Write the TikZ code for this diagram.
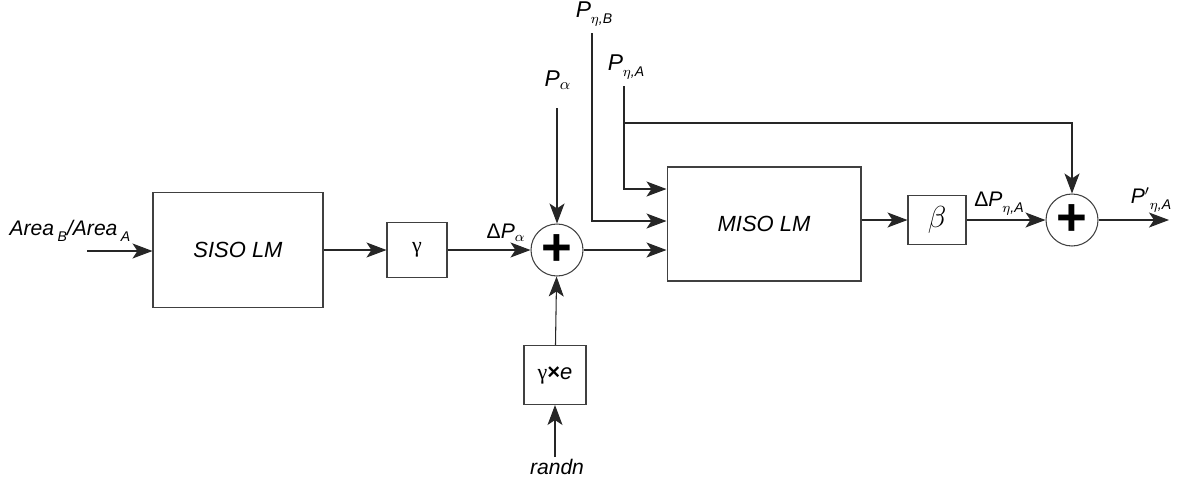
\documentclass[tikz,border=0pt]{standalone}
\usepackage{fontspec}
\setmainfont{Liberation Sans}
\newfontfamily\greekup{Liberation Serif}
\usetikzlibrary{arrows.meta}
\newcommand{\lsub}[1]{\raisebox{-0.55ex}{\footnotesize #1}}

\tikzset{
  blk/.style={draw=black!75, rectangle, line width=0.6pt, font=\fontsize{12.5}{14}\selectfont\itshape},
  sumnode/.style={draw=black!75, circle, line width=0.6pt, minimum size=1.04cm, inner sep=0pt, font=\fontsize{30}{30}\selectfont\bfseries},
  sig/.style={-{Stealth[length=4mm,width=3mm,inset=1mm]}, line width=0.6pt, black!85},
  lbl/.style={font=\fontsize{12}{14}\selectfont\itshape, inner sep=1pt}
}

\begin{document}
\begin{tikzpicture}[x=0.02cm, y=-0.02cm]
    \useasboundingbox (0,0) rectangle (1179,484);

    % SISO model
    \node[blk, minimum width=3.4cm, minimum height=2.3cm] (siso) at (238,250) {SISO LM};
    \coordinate (inA) at (87,251);
    \node[lbl] (arealbl) at (70,231) {Area\,\lsub{B}/Area\,\lsub{A}};

    % gain gamma
    \node[blk, minimum width=1.2cm, minimum height=1.1cm] (gam) at (417,250) {{\greekup\upshape γ}};

    % first sum
    \node[sumnode] (sum1) at (557,250) {+};
    \coordinate (pal) at (557,108);
    \node[lbl, font=\fontsize{13}{15}\selectfont\itshape] (palbl) at (558,80) {P$_\alpha$};
    \node[lbl] (dpal) at (506,233) {{\upshape Δ}P$_\alpha$};

    % noise
    \node[blk, minimum width=1.24cm, minimum height=1.18cm] (gamE) at (555,375) {{\greekup\upshape γ}{\upshape\bfseries ×}e};
    \coordinate (rnd) at (555,457);
    \node[lbl] (rndlbl) at (557,467) {randn};

    % MISO model
    \node[blk, minimum width=3.88cm, minimum height=2.28cm] (miso) at (764,224) {MISO LM};
    \coordinate (pB) at (592,33);
    \coordinate (pA) at (624,86);
    \coordinate (brA) at (624,123);
    \node[lbl, font=\fontsize{13}{15}\selectfont\itshape] (pBlbl) at (594,14) {P\lsub{$\eta$,B}};
    \node[lbl, font=\fontsize{13}{15}\selectfont\itshape] (pAlbl) at (626,67) {P\lsub{$\eta$,A}};

    % gain beta
    \node[blk, minimum width=1.16cm, minimum height=0.98cm, font=\LARGE] (beta) at (937,220) {$\beta$};
    \node[lbl] (dpeta) at (999,204) {{\upshape Δ}P\lsub{$\eta$,A}};

    % second sum
    \node[sumnode] (sum2) at (1072,220) {+};
    \coordinate (out) at (1169,220);
    \node[lbl] (outlbl) at (1151,200) {P$'$\lsub{$\eta$,A}};

    % Connections
    \draw[sig] (inA) -- (siso.west |- inA);
    \draw[sig] (siso) -- (gam);
    \draw[sig] (gam) -- (sum1);
    \draw[sig] (pal) -- (sum1);
    \draw[sig] (gamE) -- (sum1);
    \draw[sig] (rnd) -- (gamE);
    \draw[sig] (sum1) -- (miso.west |- sum1);
    \draw[sig] (pB) |- (miso.west |- 0,221);
    \draw[sig] (pA) |- (miso.west |- 0,189);
    \draw[sig] (brA) -| (sum2);
    \draw[sig] (miso.east |- beta) -- (beta);
    \draw[sig] (beta) -- (sum2);
    \draw[sig] (sum2) -- (out);
\end{tikzpicture}
\end{document}
